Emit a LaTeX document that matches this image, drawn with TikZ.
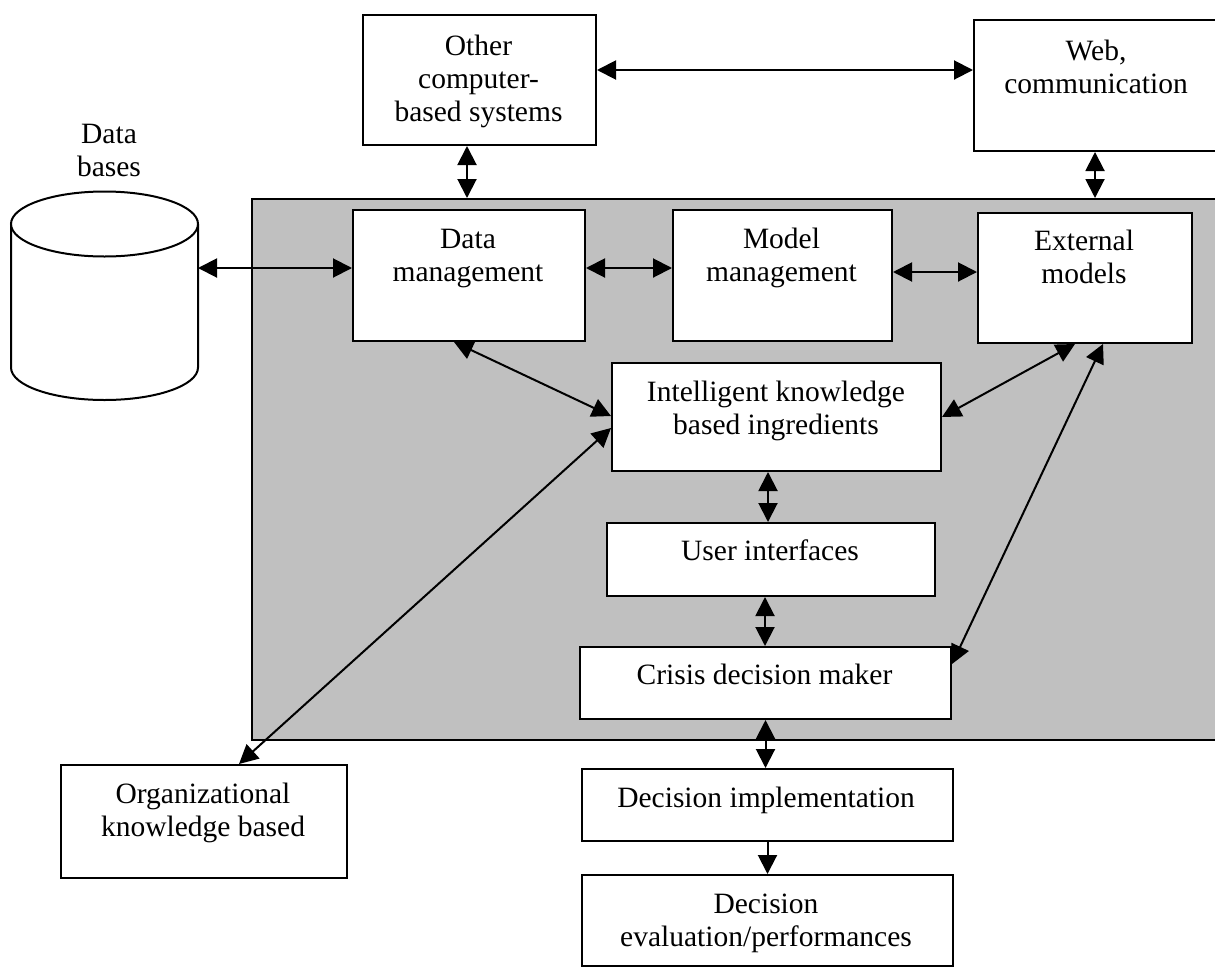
\documentclass[tikz,border=0pt]{standalone}
\usepackage{fontspec}
\setmainfont{Liberation Serif}
\usetikzlibrary{arrows.meta}
\definecolor{silverfill}{RGB}{192,192,192}
\newcommand{\mytab}[1]{\begin{tabular}[t]{@{}c@{}}#1\end{tabular}}
\newcommand{\bigfont}{\fontsize{29.5}{33}\selectfont}
\tikzset{
  box/.style={draw, fill=white, line width=2pt, inner sep=0pt, anchor=north west},
  txt/.style={anchor=base, inner sep=0pt, font=\bigfont},
  arr/.style={line width=2pt, {Triangle[length=19pt,width=19pt]}-{Triangle[length=19pt,width=19pt]}},
  arrone/.style={line width=2pt, -{Triangle[length=19pt,width=19pt]}},
}
\begin{document}
\begin{tikzpicture}[x=1pt,y=-1pt]
\useasboundingbox (0,0) rectangle (1215,967);
% main gray area
\node[box, fill=silverfill, minimum width=975pt, minimum height=541pt] (main) at (251,198) {};
% top boxes
\node[box, minimum width=233pt, minimum height=130pt] (ocs) at (362,14) {};
\node[box, minimum width=245pt, minimum height=131pt] (web) at (973,19) {};
% inner boxes
\node[box, minimum width=232pt, minimum height=131pt] (dm) at (352,209) {};
\node[box, minimum width=219pt, minimum height=131pt] (mm) at (672,209) {};
\node[box, minimum width=214pt, minimum height=130pt] (em) at (977,212) {};
\node[box, minimum width=329pt, minimum height=108pt] (ikb) at (611,362) {};
\node[box, minimum width=328pt, minimum height=73pt] (ui) at (606,522) {};
\node[box, minimum width=371pt, minimum height=72pt] (cdm) at (579,646) {};
% bottom boxes
\node[box, minimum width=371pt, minimum height=72pt] (di) at (581,768) {};
\node[box, minimum width=371pt, minimum height=91pt] (de) at (581,874) {};
\node[box, minimum width=286pt, minimum height=113pt] (org) at (60,764) {};
% data base cylinder
\draw[line width=2pt, fill=white] (11,224) -- (11,367.5)
  arc[start angle=180, end angle=0, x radius=93.5, y radius=32.5] -- (198,224);
\draw[line width=2pt, fill=white] (104.5,224) ellipse [x radius=93.5, y radius=32.5];
\coordinate (dbR) at (198,268);
% texts
\node[txt] (tdb) at (109,143) {\mytab{Data\\bases}};
\node[txt] (tocs) at (478.5,55) {\mytab{Other\\computer-\\based systems}};
\node[txt] (tweb) at (1096,60) {\mytab{Web,\\communication}};
\node[txt] (tdm) at (468,248) {\mytab{Data\\management}};
\node[txt] (tmm) at (781.5,248) {\mytab{Model\\management}};
\node[txt] (tem) at (1084,250) {\mytab{External\\models}};
\node[txt] (tikb) at (776,401) {\mytab{Intelligent knowledge\\based ingredients}};
\node[txt] (tui) at (770,560) {User interfaces};
\node[txt] (tcdm) at (764.5,684) {Crisis decision maker};
\node[txt] (tdi) at (766,807) {Decision implementation};
\node[txt] (tde) at (766,913) {\mytab{Decision\\evaluation/performances}};
\node[txt] (torg) at (203,803) {\mytab{Organizational\\knowledge based}};
% connectors
\coordinate (p1) at ([yshift=10pt]ocs.east);
\draw[arr] (p1) -- (p1 -| web.west);
\coordinate (p2) at ([xshift=-12.5pt]ocs.south);
\draw[arr] (p2) -- (p2 |- main.north);
\coordinate (p3) at ([xshift=-1.5pt]web.south);
\draw[arr] (p3) -- (p3 |- main.north);
\draw[arr] (dbR) -- (dbR -| dm.west);
\coordinate (p5) at ([yshift=7.5pt]dm.east);
\draw[arr] (p5) -- (p5 -| mm.west);
\coordinate (p6) at ([yshift=3.5pt]mm.east);
\draw[arr] (p6) -- (p6 -| em.west);
\draw[arr] ([xshift=-15pt]dm.south) -- ([yshift=1pt]ikb.west);
\draw[arr] ([xshift=35pt]org.north) -- ([yshift=-11pt]ikb.west);
\draw[arr] ([xshift=-10pt]em.south) -- (ikb.east);
\draw[arr] ([xshift=18pt]em.south) -- ([yshift=19pt]cdm.east);
\coordinate (p11) at ([xshift=-8.5pt]ikb.south);
\draw[arr] (p11) -- (p11 |- ui.north);
\coordinate (p12) at ([xshift=-6pt]ui.south);
\draw[arr] (p12) -- (p12 |- cdm.north);
\draw[arr] (cdm.south) -- (cdm.south |- di.north);
\draw[arrone] (di.south) -- (de.north);
\end{tikzpicture}
\end{document}
